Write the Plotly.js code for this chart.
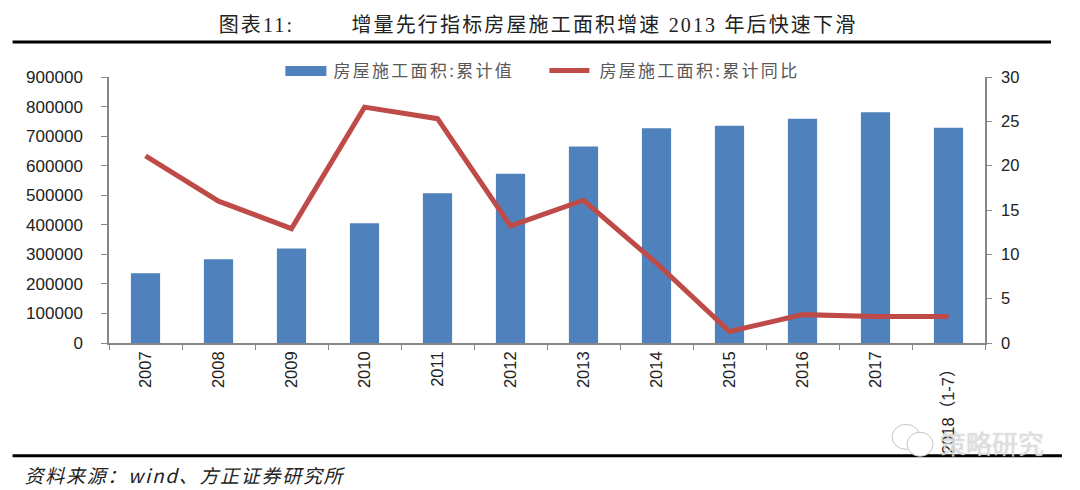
<!DOCTYPE html>
<html><head><meta charset="utf-8">
<script src="https://cdn.plot.ly/plotly-3.0.1.min.js"></script>
<style>
html,body{margin:0;padding:0;background:#fff}
#c{width:1080px;height:490px}
.legendtext{letter-spacing:2.3px}
.gtitle{letter-spacing:2.15px}
.legendsymbols path{visibility:hidden}
</style></head><body><div id="c"></div>
<script>
const categories=["2007","2008","2009","2010","2011","2012","2013","2014","2015","2016","2017","2018（1-7）"];
const tickLabels=["2007","2008","2009","2010","2011","2012","2013","2014","2015","2016","2017","2018（1-7）\u00a0\u00a0"];
const areaValues=[236000,283000,320000,405000,507000,573000,665000,727000,735000,759000,781000,728000];
const yoyValues=[21.1,16.0,12.9,26.6,25.3,13.2,16.1,9.0,1.3,3.2,3.0,3.0];
const leftTicks=[0,100000,200000,300000,400000,500000,600000,700000,800000,900000];
const rightTicks=[0,5,10,15,20,25,30];
const barName="房屋施工面积:累计值";
const lineName="房屋施工面积:累计同比";
const titleText="图表11:        增量先行指标房屋施工面积增速 2013 年后快速下滑";
const sourceText="资料来源：wind、方正证券研究所";
const watermark="策略研究";

const W=1080,H=490,L=108.5,R=985,T=77,B=343.5;
const px=x=>(x-L)/(R-L), py=y=>(B-y)/(B-T);
const axisColor="#868686", textFont='"Liberation Sans","Noto Sans CJK SC",sans-serif';
const cjk='"Liberation Serif","Noto Sans CJK SC",serif';
const barColor='#4F81BD';
const rule=(x0,x1,y)=>({type:'line',xref:'paper',yref:'paper',x0:px(x0),x1:px(x1),y0:py(y),y1:py(y),line:{color:'#000',width:3}});
const bubble=(x0,y0,x1,y1)=>({type:'circle',xref:'paper',yref:'paper',x0:px(x0),x1:px(x1),y0:py(y0),y1:py(y1),fillcolor:'#fff',line:{color:'#c4c4c4',width:1}});
const swatch=(x0,x1,y0,y1)=>({type:'rect',xref:'paper',yref:'paper',x0:px(x0),x1:px(x1),y0:py(y0),y1:py(y1),fillcolor:barColor,line:{width:0},layer:'above'});

const data=[
 {type:'bar',name:barName,x:categories,y:areaValues,marker:{color:barColor},width:0.4},
 {type:'scatter',mode:'lines',name:lineName,x:categories,y:yoyValues,yaxis:'y2',line:{color:'#BE4B48',width:5}}
];
const layout={
 width:W,height:H,margin:{l:L,r:W-R,t:T,b:H-B},paper_bgcolor:'#fff',plot_bgcolor:'#fff',
 title:{text:titleText,x:538/W,xanchor:'center',y:1-25/H,yanchor:'middle',font:{family:cjk,size:20,color:'#222'}},
 showlegend:true,
 legend:{orientation:'h',x:px(283),xanchor:'left',y:py(71),yanchor:'middle',bgcolor:'rgba(0,0,0,0)',
   font:{family:'"Noto Sans CJK SC",sans-serif',size:17,color:'#595959'},itemwidth:40,entrywidth:211,entrywidthmode:'pixels',tracegroupgap:0},
 xaxis:{type:'category',categories:categories,categoryorder:'array',tickvals:categories,ticktext:tickLabels,tickson:'boundaries',ticks:'outside',ticklen:5,tickcolor:axisColor,
   showline:true,linecolor:axisColor,linewidth:1.5,showgrid:false,tickangle:-90,tickfont:{family:textFont,size:16.5,color:'#222'},automargin:false},
 yaxis:{range:[0,900000],tickvals:leftTicks,ticktext:leftTicks.map(String),ticks:'outside',ticklen:6,tickcolor:axisColor,showline:true,ticklabelstandoff:15,
   linecolor:axisColor,linewidth:1.5,showgrid:false,zeroline:false,tickfont:{family:textFont,size:17,color:'#222'},automargin:false},
 yaxis2:{overlaying:'y',side:'right',range:[0,30],tickvals:rightTicks,ticks:'outside',ticklen:5,tickcolor:axisColor,showline:true,ticklabelstandoff:6,
   linecolor:axisColor,linewidth:1.5,showgrid:false,zeroline:false,tickfont:{family:textFont,size:16.5,color:'#222'},automargin:false},
 shapes:[rule(12,1051,42),rule(12,1062,456.5),bubble(892,425,920,450),bubble(907,433,933,457),swatch(285,326,66,76)],
 annotations:[
  {xref:'paper',yref:'paper',x:px(36),y:py(475),xanchor:'left',yanchor:'middle',showarrow:false,text:'<i>'+sourceText+'</i>',
   font:{family:'"Noto Sans CJK SC",sans-serif',size:19,color:'#222'}},
  {xref:'paper',yref:'paper',x:px(992),y:py(443),xanchor:'center',yanchor:'middle',showarrow:false,text:watermark,
   font:{family:'"Noto Sans CJK SC",sans-serif',size:26,color:'rgba(245,245,245,0.7)',shadow:'0 0 1px #888'}}
 ]
};
Plotly.newPlot('c',data,layout,{displayModeBar:false,responsive:false}).then(()=>{
 const l=document.querySelector('.legendlines path');
 if(l){l.setAttribute('transform','translate(-5,0)');}
 const a=document.querySelector('.annotation text');
 if(a){a.style.letterSpacing='1.7px';}
});
</script></body></html>
